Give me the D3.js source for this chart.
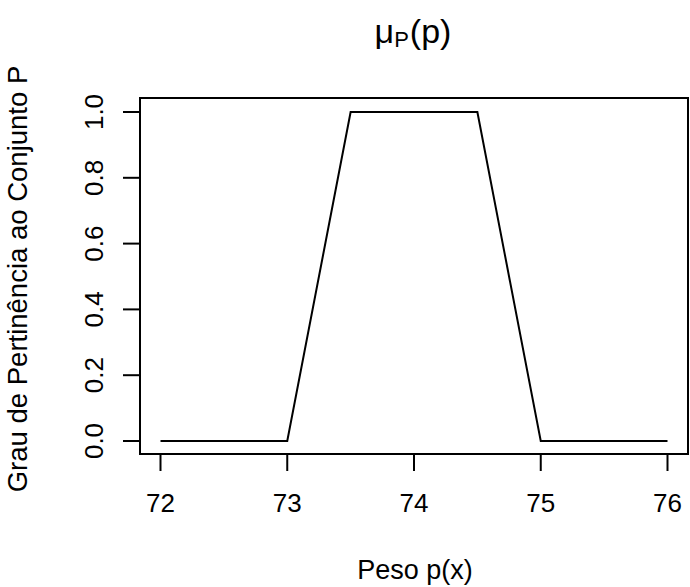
<!DOCTYPE html>
<html>
<head>
<meta charset="utf-8">
<script src="https://cdn.jsdelivr.net/npm/d3@7"></script>
<style>
  html, body { margin: 0; padding: 0; background: #fff; }
  svg text { font-family: "Liberation Sans", Arial, Helvetica, sans-serif; fill: #000; }
</style>
</head>
<body>
<svg id="chart" width="690" height="587"></svg>
<script>
// membership function data
const pesos = [72, 73, 73.5, 74.5, 75, 76]
const graus = [0, 0, 1, 1, 0, 0]
const xTicks = [72, 73, 74, 75, 76]
const yTicks = [0, 0.2, 0.4, 0.6, 0.8, 1.0]

const box = { left: 140, right: 688, top: 98, bottom: 454 }

const svg = d3.select('#chart')

const x = d3.scaleLinear().domain([72, 76]).range([160.5, 667.5])
const y = d3.scaleLinear().domain([0, 1]).range([441, 112])

// plot frame
svg.append('rect')
  .attr('x', box.left).attr('y', box.top)
  .attr('width', box.right - box.left).attr('height', box.bottom - box.top)
  .attr('fill', 'none').attr('stroke', '#000').attr('stroke-width', 2)

// x axis ticks, R style
const gx = svg.append('g').attr('transform', `translate(0,${box.bottom})`)
gx.selectAll('line.tick').data(xTicks).enter().append('line')
  .attr('class', 'tick')
  .attr('x1', d => x(d)).attr('x2', d => x(d))
  .attr('y1', 0).attr('y2', 17)
  .attr('stroke', '#000').attr('stroke-width', 2)
gx.selectAll('text').data(xTicks).enter().append('text')
  .attr('x', d => x(d)).attr('y', 58)
  .attr('text-anchor', 'middle')
  .attr('font-size', 26)
  .text(d => d)

// y axis
const gy = svg.append('g').attr('transform', `translate(${box.left},0)`)
gy.selectAll('line.tick').data(yTicks).enter().append('line')
  .attr('class', 'tick')
  .attr('x1', 0).attr('x2', -17)
  .attr('y1', d => y(d)).attr('y2', d => y(d))
  .attr('stroke', '#000').attr('stroke-width', 2)
gy.selectAll('text').data(yTicks).enter().append('text')
  .attr('transform', d => `translate(-37,${y(d)}) rotate(-90)`)
  .attr('text-anchor', 'middle')
  .attr('font-size', 26)
  .text(d => d3.format('.1f')(d))

// the trapezoid
const line = d3.line().x(d => x(d[0])).y(d => y(d[1]))
svg.append('path')
  .datum(d3.zip(pesos, graus))
  .attr('d', line)
  .attr('fill', 'none').attr('stroke', '#000').attr('stroke-width', 2)

// titles
const cx = (box.left + box.right) / 2
const title = svg.append('text')
  .attr('x', cx - 1).attr('y', 43)
  .attr('text-anchor', 'middle')
  .attr('font-size', 34)
title.append('tspan').text('\u03bc')
title.append('tspan').attr('font-size', 22).attr('dy', 4).text('P')
title.append('tspan').attr('dy', -4).attr('dx', 1).text('(p)')

svg.append('text')
  .attr('x', cx + 1).attr('y', 579)
  .attr('text-anchor', 'middle')
  .attr('font-size', 27)
  .text('Peso p(x)')

svg.append('text')
  .attr('transform', `translate(27,279) rotate(-90)`)
  .attr('text-anchor', 'middle')
  .attr('font-size', 27.5)
  .text('Grau de Pertinência ao Conjunto P')
</script>
</body>
</html>
